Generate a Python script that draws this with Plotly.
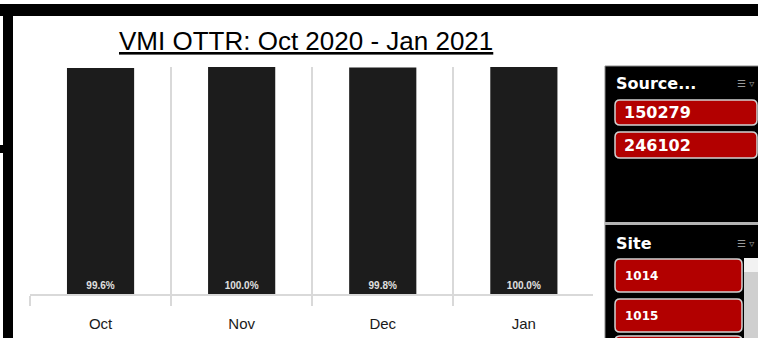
import plotly.graph_objects as go

W, H = 758, 338

months = ["Oct", "Nov", "Dec", "Jan"]
ottr = [0.996, 1.000, 0.998, 1.000]
title_text = "VMI OTTR: Oct 2020 - Jan 2021"
source_items = ["150279", "246102"]
site_items = ["1014", "1015"]


def px(x):
    return x / W


def py(y):
    return 1 - y / H


def rrect_path(x0, y0, x1, y1, r):
    pts = [
        ("M", [(x0 + r, y0)]),
        ("L", [(x1 - r, y0)]),
        ("Q", [(x1, y0), (x1, y0 + r)]),
        ("L", [(x1, y1 - r)]),
        ("Q", [(x1, y1), (x1 - r, y1)]),
        ("L", [(x0 + r, y1)]),
        ("Q", [(x0, y1), (x0, y1 - r)]),
        ("L", [(x0, y0 + r)]),
        ("Q", [(x0, y0), (x0 + r, y0)]),
    ]
    s = ""
    for cmd, ps in pts:
        s += cmd + " " + " ".join(f"{px(a):.5f},{py(b):.5f}" for a, b in ps) + " "
    return s + "Z"


fig = go.Figure()
fig.add_trace(go.Bar(
    x=months,
    y=ottr,
    marker=dict(color="#1c1c1c", line=dict(width=0)),
    texttemplate="<b>%{y:.1%}</b>",
    textposition="inside",
    insidetextanchor="start",
    textangle=0,
    insidetextfont=dict(size=10, color="#e0e0e0", family="Liberation Sans Narrow, Liberation Sans"),
    hoverinfo="skip",
))

shapes = []
annotations = []

# black frame decorations on the left/top
shapes.append(dict(type="rect", xref="paper", yref="paper", x0=px(0), x1=px(W), y0=py(4), y1=py(16),
                   fillcolor="black", line=dict(width=0), layer="above"))
shapes.append(dict(type="rect", xref="paper", yref="paper", x0=px(3), x1=px(13), y0=py(4), y1=py(H),
                   fillcolor="black", line=dict(width=0), layer="above"))
shapes.append(dict(type="rect", xref="paper", yref="paper", x0=px(0), x1=px(3), y0=py(145), y1=py(153),
                   fillcolor="black", line=dict(width=0), layer="above"))

# slicer panel
shapes.append(dict(type="rect", xref="paper", yref="paper", x0=px(605), x1=px(W + 2), y0=py(66), y1=py(H + 2),
                   fillcolor="black", line=dict(width=1, color="#8a8a8a"), layer="above"))
shapes.append(dict(type="rect", xref="paper", yref="paper", x0=px(605), x1=px(W), y0=py(222), y1=py(225),
                   fillcolor="#b4b4b4", line=dict(width=0), layer="above"))

# slicer 1 header
annotations.append(dict(x=px(614), y=py(83), xref="paper", yref="paper", xanchor="left", yanchor="middle",
                        text="<b>Source...</b>", showarrow=False,
                        font=dict(family="DejaVu Sans", size=16, color="white")))
annotations.append(dict(x=px(756), y=py(83), xref="paper", yref="paper", xanchor="right", yanchor="middle",
                        text="☰ ▿", showarrow=False,
                        font=dict(family="DejaVu Sans", size=10, color="#9a9a9a")))
src_y = [(100, 125), (132, 158)]
for label, (a, b) in zip(source_items, src_y):
    shapes.append(dict(type="path", xref="paper", yref="paper", path=rrect_path(615, a, 757, b, 5),
                       fillcolor="#b20000", line=dict(width=1.5, color="#d2d2d2"), layer="above"))
    annotations.append(dict(x=px(622), y=py((a + b) / 2), xref="paper", yref="paper", xanchor="left",
                            yanchor="middle", text=f"<b>{label}</b>", showarrow=False,
                            font=dict(family="DejaVu Sans", size=16, color="white")))

# slicer 2 header
annotations.append(dict(x=px(614), y=py(243), xref="paper", yref="paper", xanchor="left", yanchor="middle",
                        text="<b>Site</b>", showarrow=False,
                        font=dict(family="DejaVu Sans", size=16, color="white")))
annotations.append(dict(x=px(756), y=py(243), xref="paper", yref="paper", xanchor="right", yanchor="middle",
                        text="☰ ▿", showarrow=False,
                        font=dict(family="DejaVu Sans", size=10, color="#9a9a9a")))
site_y = [(259, 292), (299, 332), (336, 370)]
site_labels = site_items + [""]
for label, (a, b) in zip(site_labels, site_y):
    shapes.append(dict(type="path", xref="paper", yref="paper", path=rrect_path(615, a, 742, b, 5),
                       fillcolor="#b20000", line=dict(width=1.5, color="#d2d2d2"), layer="above"))
    if label:
        annotations.append(dict(x=px(623), y=py((a + b) / 2), xref="paper", yref="paper", xanchor="left",
                                yanchor="middle", text=f"<b>{label}</b>", showarrow=False,
                                font=dict(family="DejaVu Sans", size=12, color="white")))
# scrollbar
shapes.append(dict(type="rect", xref="paper", yref="paper", x0=px(744), x1=px(W), y0=py(258), y1=py(H),
                   fillcolor="#cfcfcf", line=dict(width=0), layer="above"))
shapes.append(dict(type="rect", xref="paper", yref="paper", x0=px(744), x1=px(W), y0=py(258), y1=py(272),
                   fillcolor="#f2f2f2", line=dict(width=0), layer="above"))

# title
annotations.append(dict(x=px(306), y=py(41), xref="paper", yref="paper", xanchor="center", yanchor="middle",
                        text=f"<u>{title_text}</u>", showarrow=False,
                        font=dict(family="Liberation Sans", size=26, color="black")))

fig.update_layout(
    width=W, height=H,
    margin=dict(l=0, r=0, t=0, b=0),
    paper_bgcolor="white",
    plot_bgcolor="white",
    showlegend=False,
    bargap=0.524,
    shapes=shapes,
    annotations=annotations,
    xaxis=dict(
        domain=[px(30), px(593)],
        type="category",
        range=[-0.5, 3.49],
        tickson="boundaries",
        showgrid=True, gridcolor="#d9d9d9", gridwidth=1.5,
        ticks="outside", ticklen=10, tickcolor="#d9d9d9", tickwidth=1.5,
        showline=True, linecolor="#d9d9d9", linewidth=2,
        tickfont=dict(family="Liberation Sans", size=15, color="#1a1a1a"),
        ticklabelstandoff=15,
        fixedrange=True,
    ),
    yaxis=dict(
        domain=[py(294), py(67)],
        range=[0, 1.0],
        visible=False,
        showgrid=False,
        zeroline=False,
        fixedrange=True,
    ),
)

fig.write_html("out.html")
